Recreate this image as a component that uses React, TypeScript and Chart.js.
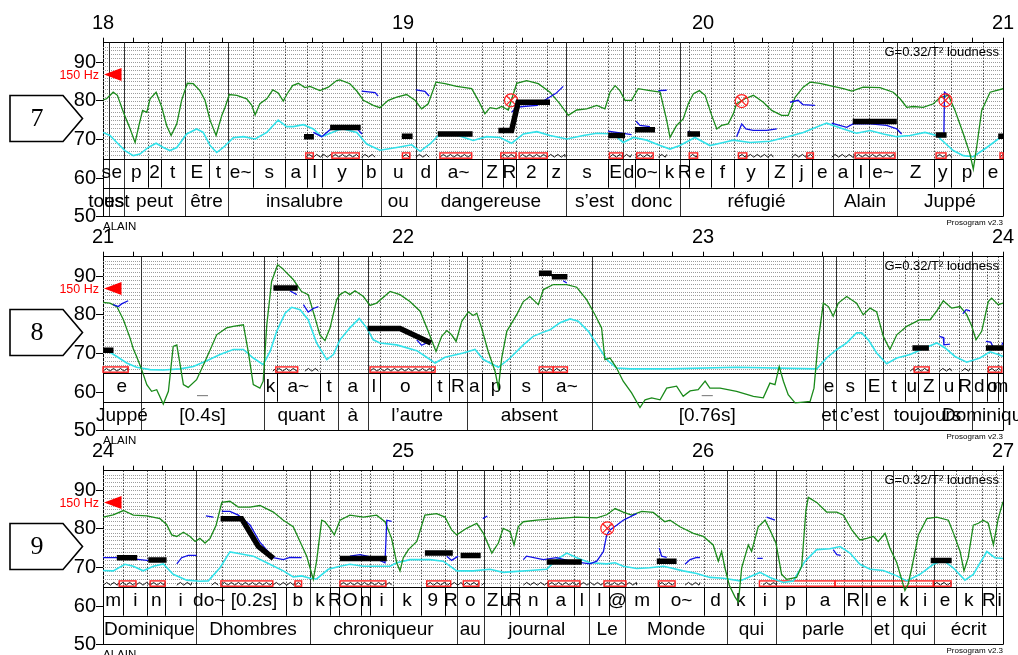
import React, { useEffect, useRef } from "react";
import { Chart, registerables } from "chart.js";

Chart.register(...registerables);
Chart.defaults.font.family = '"Liberation Sans", Arial, sans-serif';

type P = [number, number];
type Seg = [string, number, number];

// ---------------- data ----------------
const panelStarts = [18, 21, 24];
const panelNumbers = ["7", "8", "9"];
const yTickValues = [50, 60, 70, 80, 90];
const refPitchST = 86.75; // 150 Hz in semitones
const refPitchLabel = "150 Hz";
const speakerLabel = "ALAIN";
const versionLabel = "Prosogram v2.3";
const glissandoLabel = "G=0.32/T\u00B2 loudness";

// green curve (intensity)
const intensity7: P[] = [[18.0,80.2],[18.012,80.5],[18.034,82.2],[18.048,81.4],[18.068,77.0],[18.09,72.8],[18.107,69.2],[18.121,74.0],[18.132,77.5],[18.146,77.0],[18.157,80.5],[18.177,82.2],[18.196,78.3],[18.212,73.6],[18.227,71.0],[18.246,74.0],[18.262,80.1],[18.281,84.5],[18.301,84.4],[18.323,82.6],[18.34,80.1],[18.357,74.9],[18.377,71.0],[18.396,76.2],[18.407,78.3],[18.421,81.6],[18.446,81.4],[18.479,80.5],[18.496,78.8],[18.507,76.3],[18.523,79.2],[18.546,80.5],[18.566,82.8],[18.584,82.0],[18.601,79.9],[18.614,81.8],[18.632,83.9],[18.651,84.5],[18.673,83.4],[18.69,83.7],[18.723,82.6],[18.751,83.5],[18.779,85.2],[18.79,85.4],[18.823,84.4],[18.846,82.5],[18.868,80.1],[18.901,78.8],[18.923,78.2],[18.951,80.1],[18.979,80.9],[19.012,81.6],[19.04,80.1],[19.062,77.9],[19.084,79.2],[19.11,84.8],[19.14,84.4],[19.179,83.7],[19.229,83.1],[19.251,80.1],[19.273,76.6],[19.29,78.2],[19.312,77.9],[19.329,78.5],[19.351,77.6],[19.379,84.5],[19.412,85.2],[19.451,84.4],[19.49,82.2],[19.523,79.2],[19.551,76.2],[19.579,77.6],[19.612,77.9],[19.646,78.8],[19.673,77.9],[19.69,82.2],[19.707,83.9],[19.723,82.6],[19.74,80.1],[19.762,80.1],[19.784,83.1],[19.823,82.6],[19.857,82.2],[19.879,74.9],[19.89,70.5],[19.912,73.6],[19.934,75.3],[19.951,79.2],[19.968,81.8],[19.988,82.6],[20.007,81.4],[20.029,76.2],[20.046,72.7],[20.062,73.6],[20.084,74.0],[20.101,76.6],[20.112,79.2],[20.14,80.5],[20.168,81.4],[20.201,79.6],[20.229,77.5],[20.262,76.2],[20.284,76.2],[20.307,80.9],[20.334,83.5],[20.357,84.8],[20.39,84.5],[20.423,83.9],[20.468,83.1],[20.496,82.5],[20.534,83.5],[20.59,83.4],[20.634,82.2],[20.657,80.5],[20.679,78.3],[20.701,78.5],[20.734,78.3],[20.768,79.2],[20.79,80.8],[20.818,81.4],[20.84,77.5],[20.868,71.4],[20.89,66.2],[20.901,62.3],[20.912,67.9],[20.929,77.5],[20.957,82.2],[21.0,83.1]];
const intensity8: P[] = [[21.0,83.2],[21.023,83.0],[21.046,82.1],[21.068,78.7],[21.09,74.0],[21.101,71.2],[21.112,69.2],[21.129,65.8],[21.146,61.9],[21.162,60.2],[21.179,60.6],[21.201,56.9],[21.218,60.2],[21.234,71.8],[21.246,72.2],[21.257,67.1],[21.268,61.9],[21.284,61.2],[21.312,63.2],[21.34,67.9],[21.379,74.8],[21.412,76.6],[21.434,77.0],[21.468,77.4],[21.484,70.5],[21.501,61.9],[21.523,61.0],[21.534,62.8],[21.546,77.4],[21.562,88.6],[21.582,92.9],[21.596,92.1],[21.634,89.1],[21.662,86.0],[21.684,85.2],[21.707,79.1],[21.723,74.8],[21.74,73.3],[21.757,76.6],[21.779,83.9],[21.79,85.2],[21.807,86.0],[21.823,85.2],[21.84,86.2],[21.868,84.7],[21.89,82.4],[21.912,83.0],[21.957,86.0],[21.99,85.2],[22.023,83.4],[22.057,80.9],[22.084,75.7],[22.11,70.5],[22.129,74.4],[22.146,75.9],[22.162,74.8],[22.177,73.1],[22.196,78.3],[22.218,80.7],[22.234,79.8],[22.246,80.4],[22.262,76.6],[22.284,70.5],[22.307,65.3],[22.318,61.0],[22.329,68.8],[22.346,75.7],[22.379,80.0],[22.401,83.4],[22.423,84.7],[22.451,82.6],[22.468,86.5],[22.501,87.8],[22.546,87.8],[22.579,87.1],[22.612,83.9],[22.64,80.0],[22.662,76.6],[22.673,68.4],[22.69,68.8],[22.712,66.2],[22.734,62.8],[22.762,59.8],[22.79,56.0],[22.807,58.0],[22.829,58.5],[22.857,58.0],[22.879,61.0],[22.912,61.5],[22.934,58.9],[22.957,60.3],[22.984,60.6],[23.007,62.8],[23.023,61.0],[23.057,61.0],[23.112,60.2],[23.168,58.9],[23.201,58.5],[23.223,62.3],[23.24,61.9],[23.254,66.6],[23.268,62.8],[23.284,59.3],[23.307,57.2],[23.334,57.4],[23.357,57.6],[23.37,61.0],[23.384,73.1],[23.401,83.0],[23.418,82.1],[23.434,79.6],[23.451,83.0],[23.479,84.7],[23.512,83.0],[23.534,80.0],[23.557,81.7],[23.579,80.7],[23.601,74.4],[23.623,71.0],[23.646,74.8],[23.679,77.0],[23.723,78.7],[23.757,78.7],[23.779,80.9],[23.801,83.6],[23.829,81.7],[23.857,82.1],[23.879,80.0],[23.896,77.0],[23.91,73.5],[23.929,75.7],[23.951,83.4],[23.962,84.3],[23.984,82.6],[24.0,83.0]];
const intensity9: P[] = [[24.0,83.0],[24.034,83.6],[24.068,84.7],[24.101,83.5],[24.146,83.3],[24.19,82.6],[24.212,81.1],[24.229,78.4],[24.246,78.0],[24.268,79.1],[24.29,78.0],[24.307,76.7],[24.323,77.5],[24.34,76.3],[24.357,77.5],[24.377,80.9],[24.396,86.8],[24.423,87.1],[24.451,85.6],[24.49,85.6],[24.523,86.0],[24.568,84.3],[24.601,82.2],[24.634,80.5],[24.662,75.8],[24.679,72.9],[24.69,69.9],[24.701,66.9],[24.712,71.6],[24.729,82.2],[24.74,81.8],[24.757,80.1],[24.771,78.4],[24.79,82.2],[24.823,83.5],[24.868,83.0],[24.912,83.5],[24.94,81.8],[24.962,77.5],[24.979,71.2],[24.99,69.1],[25.001,72.5],[25.018,74.6],[25.046,76.7],[25.073,83.5],[25.112,83.9],[25.14,83.0],[25.162,79.7],[25.179,78.4],[25.212,80.1],[25.246,81.4],[25.268,78.8],[25.296,73.7],[25.318,76.3],[25.334,80.1],[25.357,79.2],[25.37,75.8],[25.384,80.5],[25.401,81.8],[25.446,82.2],[25.512,82.6],[25.579,83.0],[25.646,82.8],[25.679,83.6],[25.707,85.2],[25.734,84.3],[25.762,83.5],[25.796,84.5],[25.834,84.2],[25.873,81.8],[25.89,82.2],[25.923,80.5],[25.968,78.8],[26.001,78.0],[26.034,75.8],[26.051,71.6],[26.062,74.1],[26.073,69.9],[26.088,65.3],[26.107,62.3],[26.118,61.0],[26.129,69.9],[26.151,75.8],[26.162,74.1],[26.184,80.5],[26.207,82.2],[26.223,79.7],[26.243,76.3],[26.262,68.2],[26.279,66.9],[26.312,67.4],[26.329,70.3],[26.343,84.7],[26.351,88.1],[26.379,86.8],[26.412,84.3],[26.446,84.3],[26.468,83.5],[26.496,79.7],[26.523,77.1],[26.546,77.5],[26.568,78.0],[26.584,76.7],[26.607,78.8],[26.623,75.0],[26.646,71.2],[26.673,64.0],[26.684,65.7],[26.696,69.9],[26.718,78.4],[26.746,82.6],[26.779,83.0],[26.818,82.2],[26.837,78.4],[26.857,74.1],[26.87,69.1],[26.884,72.5],[26.901,80.9],[26.918,81.4],[26.934,82.2],[26.951,81.4],[26.968,75.8],[26.984,82.6],[27.0,87.0]];

// cyan curve (loudness)
const loudness7: P[] = [[18.0,71.8],[18.023,71.0],[18.046,69.2],[18.073,67.1],[18.101,65.8],[18.123,66.2],[18.151,67.9],[18.177,69.0],[18.201,67.9],[18.223,67.1],[18.246,67.9],[18.279,71.4],[18.312,72.7],[18.334,71.8],[18.357,68.4],[18.379,66.6],[18.401,67.9],[18.434,70.4],[18.468,70.7],[18.507,70.1],[18.546,71.8],[18.584,75.0],[18.612,73.3],[18.634,73.3],[18.668,73.8],[18.701,72.7],[18.729,70.7],[18.751,71.4],[18.784,72.4],[18.801,72.7],[18.846,71.8],[18.879,68.8],[18.923,67.2],[18.979,67.9],[19.029,68.6],[19.057,66.9],[19.09,68.8],[19.118,71.0],[19.168,71.4],[19.234,69.7],[19.279,70.7],[19.323,70.5],[19.362,69.0],[19.401,71.4],[19.446,72.0],[19.49,71.0],[19.546,70.1],[19.601,71.0],[19.646,71.6],[19.701,71.4],[19.734,69.2],[19.768,70.5],[19.812,69.8],[19.857,68.4],[19.89,67.5],[19.923,68.4],[19.973,70.5],[20.023,68.4],[20.068,69.2],[20.101,69.8],[20.157,69.2],[20.223,69.5],[20.273,70.5],[20.334,71.8],[20.412,74.2],[20.468,72.7],[20.512,71.6],[20.557,72.3],[20.601,71.4],[20.646,70.7],[20.69,71.0],[20.74,71.8],[20.779,71.0],[20.834,67.1],[20.868,65.8],[20.901,65.5],[20.946,67.9],[21.0,71.0]];
const loudness8: P[] = [[21.0,71.0],[21.023,70.3],[21.046,69.2],[21.079,67.5],[21.112,66.4],[21.157,65.8],[21.201,65.7],[21.257,66.0],[21.301,66.6],[21.346,68.1],[21.39,69.7],[21.434,71.0],[21.468,71.0],[21.501,68.8],[21.534,67.1],[21.557,70.5],[21.579,75.7],[21.607,80.4],[21.629,81.9],[21.657,81.3],[21.684,78.7],[21.712,72.7],[21.746,68.4],[21.768,69.7],[21.79,73.5],[21.823,76.6],[21.854,79.0],[21.879,76.6],[21.901,73.5],[21.923,72.7],[21.979,72.2],[22.046,70.7],[22.079,69.0],[22.107,67.5],[22.14,69.0],[22.201,70.1],[22.24,71.0],[22.268,68.4],[22.318,66.4],[22.357,68.8],[22.401,72.2],[22.434,74.4],[22.462,75.3],[22.49,76.1],[22.523,77.9],[22.557,78.9],[22.584,78.3],[22.618,75.7],[22.651,71.8],[22.679,68.4],[22.712,66.2],[22.757,66.0],[22.89,66.0],[23.112,66.4],[23.379,66.0],[23.412,68.8],[23.446,71.0],[23.479,72.7],[23.512,75.3],[23.529,75.3],[23.551,73.5],[23.579,70.1],[23.612,67.3],[23.646,68.8],[23.69,69.7],[23.74,71.4],[23.779,72.7],[23.807,71.4],[23.84,69.2],[23.879,67.7],[23.923,68.8],[23.957,70.4],[23.984,69.7],[24.0,69.2]];
const loudness9: P[] = [[24.0,69.2],[24.034,69.1],[24.073,70.8],[24.101,70.3],[24.134,69.1],[24.168,70.3],[24.201,70.9],[24.234,68.2],[24.279,66.7],[24.323,66.4],[24.351,66.5],[24.39,69.9],[24.423,74.0],[24.457,73.5],[24.501,72.9],[24.546,71.2],[24.601,69.1],[24.634,67.5],[24.662,67.8],[24.69,67.2],[24.712,67.0],[24.751,69.5],[24.79,70.3],[24.823,70.8],[24.868,70.3],[24.923,70.3],[24.957,70.3],[24.979,71.2],[25.023,72.0],[25.09,72.0],[25.134,71.6],[25.179,69.1],[25.234,69.1],[25.29,69.5],[25.334,68.7],[25.368,68.9],[25.423,69.2],[25.479,69.5],[25.512,72.0],[25.546,73.7],[25.579,72.5],[25.623,71.2],[25.679,70.9],[25.707,71.2],[25.734,70.3],[25.779,69.7],[25.823,69.9],[25.868,70.3],[25.89,69.9],[25.934,69.1],[25.979,68.4],[26.023,67.4],[26.068,67.2],[26.123,66.5],[26.19,68.7],[26.223,67.4],[26.268,66.1],[26.301,66.5],[26.34,71.6],[26.379,74.6],[26.423,74.8],[26.457,75.4],[26.49,73.7],[26.523,70.8],[26.557,69.5],[26.601,69.2],[26.646,67.8],[26.679,66.5],[26.723,68.2],[26.768,70.8],[26.801,71.8],[26.834,69.9],[26.873,66.7],[26.901,68.2],[26.946,74.1],[26.973,72.5],[27.0,72.3]];

// blue pitch fragments
const pitch7: P[][] = [
  [[18.701,71.8],[18.729,70.7],[18.757,72.5],[18.807,72.9],[18.847,72.8],[18.863,71.4]],
  [[18.862,82.5],[18.907,82.1],[18.917,81.2]],
  [[19.043,82.8],[19.073,82.4],[19.087,81.2]],
  [[19.362,77.0],[19.379,78.3],[19.4,78.5],[19.447,78.8],[19.48,80.5],[19.51,81.9],[19.534,83.7]],
  [[19.684,72.1],[19.723,71.7],[19.762,71.2]],
  [[19.777,74.7],[19.79,73.6],[19.823,73.3]],
  [[19.851,82.6],[19.879,82.7]],
  [[19.95,72.1],[19.99,71.0]],
  [[20.112,70.7],[20.129,74.0],[20.143,72.7],[20.167,72.3],[20.212,72.3],[20.246,72.7]],
  [[20.29,79.6],[20.317,80.1],[20.333,79.0],[20.373,78.8]],
  [[20.429,74.2],[20.479,73.1],[20.5,74.0],[20.557,74.0],[20.612,73.6],[20.646,72.7],[20.662,71.4]],
  [[20.79,71.2],[20.803,71.4],[20.805,82.2],[20.817,81.4]],
];
const pitch8: P[][] = [
  [[21.034,82.6],[21.051,82.1],[21.062,82.8],[21.084,83.6]],
  [[21.623,86.2],[21.646,85.2]],
  [[21.668,82.6],[21.684,80.7],[21.701,81.6],[21.718,82.1]],
  [[22.046,73.5],[22.062,72.1],[22.079,72.7]],
  [[22.534,88.8],[22.546,88.2]],
  [[23.788,74.4],[23.801,74.1],[23.803,72.2],[23.823,72.4]],
  [[23.866,80.2],[23.877,81.3],[23.89,81.0]],
  [[23.943,73.1],[23.959,72.9],[23.966,71.8]],
  [[23.996,72.2],[24.0,72.8]],
];
const pitch9: P[][] = [
  [[24.0,72.5],[24.057,72.5],[24.123,72.0],[24.146,71.8],[24.19,72.0],[24.207,72.2]],
  [[24.246,70.9],[24.262,72.5],[24.284,73.1],[24.312,73.1]],
  [[24.343,83.3],[24.368,83.0]],
  [[24.396,84.5],[24.423,84.5],[24.451,83.5],[24.49,81.0],[24.523,76.5],[24.568,72.5],[24.601,72.0],[24.623,72.6],[24.662,72.5]],
  [[24.823,72.9],[24.857,73.3],[24.9,72.6],[24.94,71.2],[24.946,82.2],[24.962,81.9]],
  [[25.146,72.9],[25.162,71.8],[25.184,72.9]],
  [[25.266,82.6],[25.281,83.3]],
  [[25.401,72.0],[25.412,72.9],[25.468,72.0],[25.512,72.5],[25.557,71.6],[25.623,70.9],[25.646,71.6],[25.668,74.1],[25.679,78.4],[25.69,79.7],[25.712,80.9],[25.734,82.2],[25.779,83.9]],
  [[25.854,75.0],[25.862,72.9],[25.879,72.6]],
  [[25.94,70.8],[25.957,72.0],[25.979,72.6],[25.99,72.5]],
  [[26.181,72.3],[26.199,72.3]],
  [[26.212,83.0],[26.24,82.2]],
  [[26.434,74.6],[26.446,73.3],[26.459,73.1]],
];

// black stylized pitch
const stylized7: P[][] = [
  [[18.67,70.7],[18.703,70.7]],
  [[18.757,73.1],[18.859,73.1]],
  [[18.996,70.8],[19.032,70.8]],
  [[19.116,71.4],[19.232,71.4]],
  [[19.318,72.3],[19.362,72.3],[19.384,79.6],[19.49,79.6]],
  [[19.684,71.0],[19.74,71.0]],
  [[19.773,72.5],[19.84,72.5]],
  [[19.948,71.4],[19.99,71.4]],
  [[20.499,74.6],[20.646,74.6]],
  [[20.776,71.1],[20.812,71.1]],
  [[20.984,70.8],[21.035,70.8]],
];
const stylized8: P[][] = [
  [[20.984,70.8],[21.035,70.8]],
  [[21.568,86.9],[21.649,86.9]],
  [[21.882,76.4],[21.99,76.4],[22.093,72.7]],
  [[22.453,90.7],[22.496,90.7]],
  [[22.496,89.8],[22.548,89.8]],
  [[23.698,71.4],[23.753,71.4]],
  [[23.943,71.4],[24.0,71.4]],
];
const stylized9: P[][] = [
  [[24.046,72.5],[24.114,72.5]],
  [[24.151,71.9],[24.212,71.9]],
  [[24.392,82.6],[24.462,82.6],[24.518,75.4],[24.568,72.3]],
  [[24.79,72.3],[24.946,72.3]],
  [[25.073,73.7],[25.166,73.7]],
  [[25.192,73.1],[25.259,73.1]],
  [[25.479,71.4],[25.596,71.4]],
  [[25.846,71.6],[25.912,71.6]],
  [[26.759,71.8],[26.829,71.8]],
];

// red circled-cross markers
const marks7: P[] = [[19.36,80.1],[20.129,79.9],[20.808,80.1]];
const marks8: P[] = [];
const marks9: P[] = [[25.681,80.1]];

// nucleus boxes and vowel zigzags [start, end]
const nuclei7: P[] = [[18.676,18.701],[18.763,18.854],[18.998,19.023],[19.123,19.229],[19.326,19.377],[19.387,19.481],[19.688,19.732],[19.779,19.834],[19.954,19.982],[20.118,20.146],[20.346,20.368],[20.507,20.64],[20.777,20.81],[20.99,21.084]];
const nuclei8: P[] = [[20.99,21.084],[21.576,21.649],[21.89,22.107],[22.454,22.501],[22.501,22.548],[23.704,23.754],[23.951,23.996]];
const nuclei9: P[] = [[24.054,24.11],[24.157,24.207],[24.393,24.566],[24.64,24.662],[24.79,24.943],[25.079,25.159],[25.201,25.253],[25.484,25.59],[25.67,25.743],[25.851,25.907],[26.188,26.44],[26.44,26.768],[26.768,26.827]];
const zigzag7: P[] = [[18.676,18.701],[18.701,18.763],[18.763,18.854],[18.862,18.907],[18.998,19.023],[19.043,19.087],[19.123,19.229],[19.326,19.377],[19.387,19.481],[19.481,19.54],[19.688,19.732],[19.734,19.762],[19.779,19.834],[19.851,19.879],[19.954,19.982],[20.118,20.146],[20.146,20.234],[20.296,20.346],[20.346,20.368],[20.429,20.507],[20.507,20.64],[20.777,20.81],[20.81,20.829],[20.99,21.084]];
const zigzag8: P[] = [[20.99,21.084],[21.566,21.576],[21.576,21.649],[21.673,21.718],[21.89,22.107],[22.454,22.501],[22.501,22.548],[23.69,23.704],[23.704,23.754],[23.788,23.829],[23.862,23.89],[23.951,23.996]];
const zigzag9: P[] = [[24.001,24.054],[24.054,24.11],[24.11,24.157],[24.157,24.207],[24.246,24.296],[24.362,24.384],[24.393,24.566],[24.566,24.64],[24.64,24.662],[24.79,24.943],[24.943,24.962],[25.079,25.159],[25.159,25.201],[25.201,25.253],[25.262,25.273],[25.401,25.484],[25.484,25.59],[25.59,25.67],[25.67,25.743],[25.743,25.779],[25.851,25.907],[25.94,25.99],[26.2,26.246],[26.768,26.827]];

// annotation tiers [label, start, end]
const phones: Seg[] = [["s",17.95,18.021],["e",18.021,18.071],["p",18.071,18.151],["2",18.151,18.192],["t",18.192,18.273],["E",18.273,18.352],["t",18.352,18.417],["e~",18.417,18.501],["s",18.501,18.607],["a",18.607,18.679],["l",18.679,18.731],["y",18.731,18.862],["b",18.862,18.926],["u",18.926,19.043],["d",19.043,19.109],["a~",19.109,19.262],["Z",19.262,19.332],["R",19.332,19.377],["2",19.377,19.479],["z",19.479,19.543],["s",19.543,19.684],["E",19.684,19.734],["d",19.734,19.773],["o~",19.773,19.854],["k",19.854,19.923],["R",19.923,19.954],["e",19.954,20.026],["f",20.026,20.104],["y",20.104,20.216],["Z",20.216,20.296],["j",20.296,20.362],["e",20.362,20.434],["a",20.434,20.499],["l",20.499,20.554],["e~",20.554,20.646],["Z",20.646,20.771],["y",20.771,20.827],["p",20.827,20.934],["e",20.934,21.126],
  ["_",21.126,21.537],["k",21.537,21.579],["a~",21.579,21.723],["t",21.723,21.784],["a",21.784,21.882],["l",21.882,21.923],["o",21.923,22.093],["t",22.093,22.153],["R",22.153,22.212],["a",22.212,22.264],["p",22.264,22.357],["s",22.357,22.464],["a~",22.464,22.629],["_",22.629,23.399],["e",23.399,23.442],["s",23.442,23.54],["E",23.54,23.601],["t",23.601,23.674],["u",23.674,23.718],["Z",23.718,23.788],["u",23.788,23.852],["R",23.852,23.896],["d",23.896,23.946],["o",23.946,23.982],["m",23.982,24.067],
  ["i",24.067,24.148],["n",24.148,24.207],["i",24.207,24.31],["do~",24.31,24.398],["[0.2s]",24.398,24.609],["b",24.609,24.69],["k",24.69,24.757],["R",24.757,24.788],["O",24.788,24.86],["n",24.86,24.89],["i",24.89,24.968],["k",24.968,25.059],["9",25.059,25.14],["R",25.14,25.179],["o",25.179,25.27],["Z",25.27,25.327],["u",25.327,25.357],["R",25.357,25.388],["n",25.388,25.481],["a",25.481,25.571],["l",25.571,25.621],["l",25.621,25.688],["@",25.688,25.74],["m",25.74,25.854],["o~",25.854,26.003],["d",26.003,26.081],["k",26.081,26.17],["i",26.17,26.242],["p",26.242,26.342],["a",26.342,26.471],["R",26.471,26.531],["l",26.531,26.559],["e",26.559,26.632],["k",26.632,26.71],["i",26.71,26.771],["e",26.771,26.842],["k",26.842,26.929],["R",26.929,26.977],["i",26.977,27.05]];

const words: Seg[] = [["tous",17.8,18.021],["est",18.021,18.071],["peut",18.071,18.273],["être",18.273,18.417],["insalubre",18.417,18.926],["ou",18.926,19.043],["dangereuse",19.043,19.543],["s\u2019est",19.543,19.734],["donc",19.734,19.923],["réfugié",19.923,20.434],["Alain",20.434,20.646],["Juppé",20.646,21.126],["[0.4s]",21.126,21.537],["quant",21.537,21.784],["à",21.784,21.882],["l\u2019autre",21.882,22.212],["absent",22.212,22.629],["[0.76s]",22.629,23.399],["et",23.399,23.442],["c\u2019est",23.442,23.601],["toujours",23.601,23.896],["Dominique",23.896,24.31],["Dhombres",24.31,24.69],["chroniqueur",24.69,25.179],["au",25.179,25.27],["journal",25.27,25.621],["Le",25.621,25.74],["Monde",25.74,26.081],["qui",26.081,26.242],["parle",26.242,26.559],["et",26.559,26.632],["qui",26.632,26.771],["écrit",26.771,27.05]];

// ---------------- layout / style ----------------
const CANVAS_W = 1018;
const CANVAS_H = 232;
const PANEL_STEP = 214;
const AXIS_W = 103;
const TOP_H = 42.7;
const AREA_BOTTOM = 216.7;
const Y_MIN = 50;
const Y_MAX = 95;
const PITCH_BOTTOM = 65;
const PHONE_BOTTOM = 57.5;
const NUCLEUS_TOP = 66.5;

const GREEN = "#1a8a1a";
const CYAN = "#33e2ea";
const BLUE = "#1010e6";
const RED = "#ff2222";
const FONT = '"Liberation Sans", Arial, sans-serif';

const panels = [
  { start: panelStarts[0], num: panelNumbers[0], green: intensity7, cyan: loudness7, pitch: pitch7, style: stylized7, marks: marks7, boxes: nuclei7, zigs: zigzag7 },
  { start: panelStarts[1], num: panelNumbers[1], green: intensity8, cyan: loudness8, pitch: pitch8, style: stylized8, marks: marks8, boxes: nuclei8, zigs: zigzag8 },
  { start: panelStarts[2], num: panelNumbers[2], green: intensity9, cyan: loudness9, pitch: pitch9, style: stylized9, marks: marks9, boxes: nuclei9, zigs: zigzag9 },
];

function pts(a: P[]) {
  return a.map(([x, y]) => ({ x, y }));
}
function segs(a: P[][]) {
  const out: { x: number; y: number | null }[] = [];
  a.forEach((s, i) => {
    if (i > 0) out.push({ x: s[0][0], y: null });
    s.forEach(([x, y]) => out.push({ x, y }));
  });
  return out;
}

function makePlugin(panel: any) {
  return {
    id: "proso" + panel.num,
    beforeDatasetsDraw(chart: any) {
      const { ctx, chartArea: ca } = chart;
      const sx = chart.scales.x;
      const sy = chart.scales.y;
      const t0 = sx.min;
      const t1 = sx.max;
      const X = (t: number) => sx.getPixelForValue(t);
      const Y = (v: number) => sy.getPixelForValue(v);
      const crisp = (p: number) => Math.round(p) + 0.5;
      const hline = (yy: number) => {
        ctx.beginPath();
        ctx.moveTo(ca.left, yy);
        ctx.lineTo(ca.right, yy);
        ctx.stroke();
      };
      ctx.save();

      // semitone grid
      ctx.strokeStyle = "#9c9c9c";
      ctx.lineWidth = 1;
      ctx.setLineDash([1, 1]);
      for (let v = PITCH_BOTTOM + 1; v < Y_MAX; v++) hline(crisp(Y(v)));
      ctx.setLineDash([]);

      // boundaries
      const key = (t: number) => t.toFixed(3);
      const inside = (t: number) => t > t0 + 1e-6 && t < t1 - 1e-6;
      const wordB = new Map<string, number>();
      words.forEach(([, s, e]) => {
        if (inside(s)) wordB.set(key(s), s);
        if (inside(e)) wordB.set(key(e), e);
      });
      const phoneB = new Map<string, number>();
      phones.forEach(([, s, e]) => {
        if (inside(s)) phoneB.set(key(s), s);
        if (inside(e)) phoneB.set(key(e), e);
      });
      ctx.strokeStyle = "#000";
      ctx.setLineDash([1, 2]);
      phoneB.forEach((t, k) => {
        if (wordB.has(k)) return;
        const xx = crisp(X(t));
        ctx.beginPath();
        ctx.moveTo(xx, ca.top);
        ctx.lineTo(xx, Y(PITCH_BOTTOM));
        ctx.stroke();
      });
      ctx.setLineDash([]);
      ctx.strokeStyle = "#000";
      phoneB.forEach((t) => {
        const xx = crisp(X(t));
        ctx.beginPath();
        ctx.moveTo(xx, Y(PITCH_BOTTOM));
        ctx.lineTo(xx, Y(PHONE_BOTTOM));
        ctx.stroke();
      });
      ctx.strokeStyle = "#333";
      wordB.forEach((t) => {
        const xx = crisp(X(t));
        ctx.beginPath();
        ctx.moveTo(xx, ca.top);
        ctx.lineTo(xx, ca.bottom);
        ctx.stroke();
      });

      // tier lines and right frame
      ctx.strokeStyle = "#000";
      hline(crisp(Y(PITCH_BOTTOM)));
      hline(crisp(Y(PHONE_BOTTOM)));
      hline(crisp(Y(Y_MIN)) - 1);
      ctx.beginPath();
      ctx.moveTo(crisp(ca.right), ca.top);
      ctx.lineTo(crisp(ca.right), ca.bottom);
      ctx.stroke();

      // tier labels
      ctx.font = "19px " + FONT;
      ctx.textAlign = "center";
      ctx.textBaseline = "middle";
      const label = (list: Seg[], v: number) => {
        list.forEach(([txt, s, e]) => {
          const a = Math.max(s, t0);
          const b = Math.min(e, t1);
          if (b <= a) return;
          ctx.fillStyle = txt === "_" ? "#888" : "#000";
          ctx.fillText(txt, X((a + b) / 2), Y(v));
        });
      };
      label(phones, (PITCH_BOTTOM + PHONE_BOTTOM) / 2);
      label(words, (PHONE_BOTTOM + Y_MIN) / 2 + 0.1);

      // vowel zigzags
      ctx.strokeStyle = "#000";
      ctx.lineWidth = 0.9;
      const yTop = Y(NUCLEUS_TOP) + 1.5;
      const yBot = Y(PITCH_BOTTOM) - 1.5;
      panel.zigs.forEach(([s, e]: P) => {
        const a = X(Math.max(s, t0));
        const b = X(Math.min(e, t1));
        if (b <= a) return;
        ctx.beginPath();
        ctx.moveTo(a, yBot);
        let xx = a;
        let up = true;
        while (xx < b - 0.1) {
          const nx = Math.min(xx + 3.5, b);
          ctx.lineTo(nx, up ? yTop : yBot);
          up = !up;
          xx = nx;
        }
        ctx.stroke();
      });
      // nucleus boxes
      ctx.strokeStyle = RED;
      ctx.lineWidth = 1.4;
      panel.boxes.forEach(([s, e]: P) => {
        const a = X(Math.max(s, t0));
        const b = X(Math.min(e, t1));
        if (b <= a) return;
        ctx.strokeRect(a, Y(NUCLEUS_TOP), b - a, Y(PITCH_BOTTOM) - Y(NUCLEUS_TOP) - 0.5);
      });

      // 150 Hz reference
      const yr = Y(refPitchST);
      ctx.fillStyle = "#ff0000";
      ctx.beginPath();
      ctx.moveTo(ca.left + 1, yr);
      ctx.lineTo(ca.left + 18.5, yr - 6.5);
      ctx.lineTo(ca.left + 18.5, yr + 6.5);
      ctx.closePath();
      ctx.fill();
      ctx.font = "12.5px " + FONT;
      ctx.textAlign = "right";
      ctx.fillText(refPitchLabel, ca.left - 4, yr + 0.5);

      // glissando threshold text
      ctx.fillStyle = "#000";
      ctx.font = "13px " + FONT;
      ctx.textAlign = "right";
      ctx.fillText(glissandoLabel, ca.right - 4, ca.top + 10);
      ctx.restore();
    },
    afterDraw(chart: any) {
      const { ctx, chartArea: ca } = chart;
      ctx.save();
      // pentagon
      ctx.strokeStyle = "#000";
      ctx.lineWidth = 1.6;
      ctx.fillStyle = "#fff";
      ctx.beginPath();
      ctx.moveTo(10, 95.5);
      ctx.lineTo(63, 95.5);
      ctx.lineTo(82.5, 118.5);
      ctx.lineTo(63, 141.5);
      ctx.lineTo(10, 141.5);
      ctx.closePath();
      ctx.fill();
      ctx.stroke();
      ctx.fillStyle = "#000";
      ctx.font = '26px "Liberation Serif", "Times New Roman", serif';
      ctx.textAlign = "center";
      ctx.textBaseline = "middle";
      ctx.fillText(panel.num, 37, 119.5);
      // footer labels
      ctx.font = "11.5px " + FONT;
      ctx.textAlign = "left";
      ctx.textBaseline = "top";
      ctx.fillText(speakerLabel, ca.left, ca.bottom + 4);
      ctx.font = "8px " + FONT;
      ctx.textAlign = "right";
      ctx.fillText(versionLabel, ca.right, ca.bottom + 2);
      ctx.restore();
    },
  };
}

function Panel({ index }: { index: number }) {
  const ref = useRef<HTMLCanvasElement>(null);
  useEffect(() => {
    const p = panels[index];
    const chart = new Chart(ref.current as HTMLCanvasElement, {
      type: "line",
      data: {
        datasets: [
          { label: "stylized", data: segs(p.style) as any, borderColor: "#000", borderWidth: 5.5, borderCapStyle: "butt", borderJoinStyle: "miter", pointRadius: 0, spanGaps: false, order: 0 },
          { label: "marks", type: "scatter", data: pts(p.marks) as any, pointStyle: "circle", pointRadius: 6.5, borderColor: RED, backgroundColor: "rgba(0,0,0,0)", borderWidth: 1.2, order: 1 },
          { label: "marksX", type: "scatter", data: pts(p.marks) as any, pointStyle: "crossRot", pointRadius: 6.5, borderColor: RED, borderWidth: 1.2, order: 1 },
          { label: "pitch", data: segs(p.pitch) as any, borderColor: BLUE, borderWidth: 1.3, pointRadius: 0, spanGaps: false, order: 2 },
          { label: "intensity", data: pts(p.green) as any, borderColor: GREEN, borderWidth: 1.3, pointRadius: 0, order: 3 },
          { label: "loudness", data: pts(p.cyan) as any, borderColor: CYAN, borderWidth: 1.6, pointRadius: 0, order: 4 },
        ] as any,
      },
      options: {
        animation: false,
        responsive: false,
        events: [],
        layout: { padding: { left: 0, right: CANVAS_W - 1003, top: 0, bottom: CANVAS_H - AREA_BOTTOM } },
        plugins: { legend: { display: false }, tooltip: { enabled: false } },
        elements: { line: { tension: 0 }, point: { radius: 0 } },
        scales: {
          x: {
            type: "linear",
            position: "top",
            min: p.start,
            max: p.start + 3,
            ticks: {
              stepSize: 0.1,
              autoSkip: false,
              maxRotation: 0,
              padding: 2,
              color: "#000",
              font: { size: 20 },
              callback: (v: any) => (Math.abs(v - Math.round(v)) < 1e-6 ? String(Math.round(v)) : ""),
            },
            grid: { drawOnChartArea: false, drawTicks: true, tickLength: 5, color: "#000", lineWidth: 1 },
            border: { display: true, color: "#000", width: 1 },
            afterFit: (s: any) => {
              s.height = TOP_H;
            },
          },
          y: {
            type: "linear",
            position: "left",
            min: Y_MIN,
            max: Y_MAX,
            afterBuildTicks: (s: any) => {
              s.ticks = yTickValues.map((v) => ({ value: v }));
            },
            ticks: { color: "#000", padding: 0, font: { size: 20 }, callback: (v: any) => String(v) },
            grid: { drawOnChartArea: false, drawTicks: true, tickLength: 7, color: "#000", lineWidth: 1 },
            border: { display: true, color: "#000", width: 1 },
            afterFit: (s: any) => {
              s.width = AXIS_W;
            },
          },
        },
      } as any,
      plugins: [makePlugin(p)],
    });
    return () => chart.destroy();
  }, [index]);
  return (
    <canvas
      ref={ref}
      width={CANVAS_W}
      height={CANVAS_H}
      style={{ position: "absolute", left: 0, top: index * PANEL_STEP, width: CANVAS_W, height: CANVAS_H }}
    />
  );
}

export default function App() {
  return (
    <div style={{ position: "absolute", left: 0, top: 0, width: CANVAS_W, height: 655, background: "#fff", overflow: "hidden" }}>
      {panels.map((_, i) => (
        <Panel key={i} index={i} />
      ))}
    </div>
  );
}
